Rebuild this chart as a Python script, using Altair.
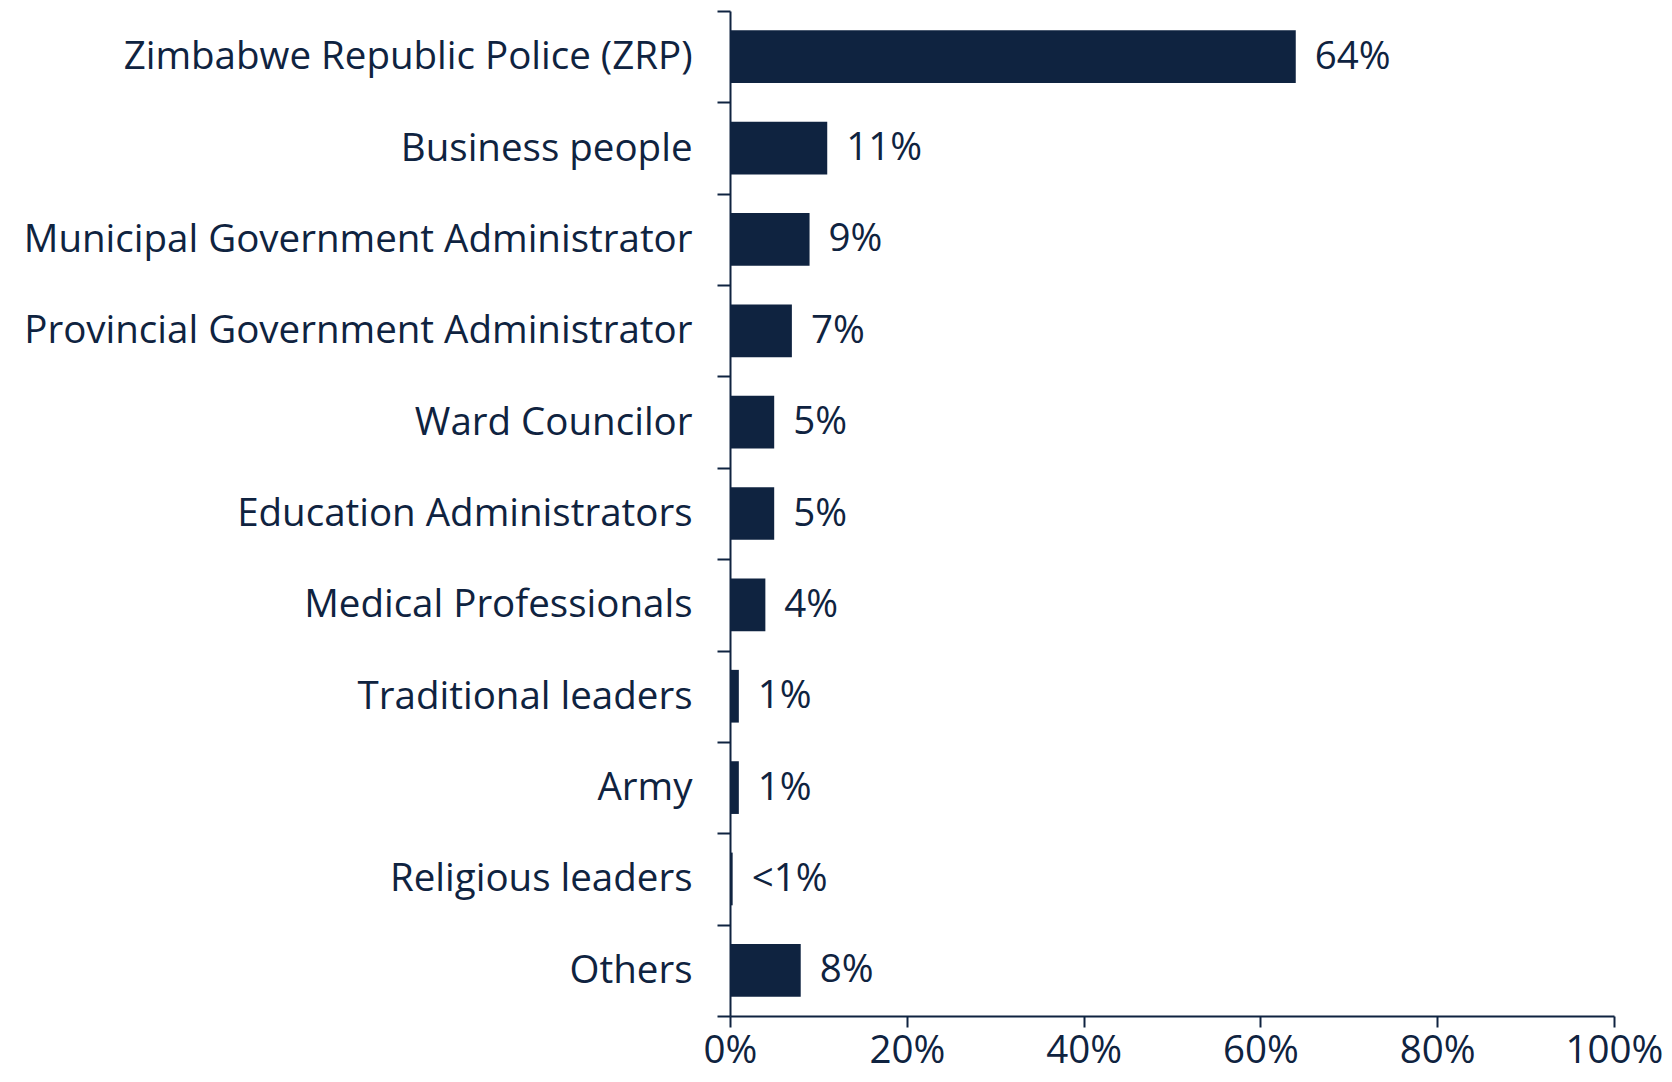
import altair as alt
import pandas as pd

categories = [
    "Zimbabwe Republic Police (ZRP)",
    "Business people",
    "Municipal Government Administrator",
    "Provincial Government Administrator",
    "Ward Councilor",
    "Education Administrators",
    "Medical Professionals",
    "Traditional leaders",
    "Army",
    "Religious leaders",
    "Others",
]
values = [64, 11, 9, 7, 5, 5, 4, 1, 1, 0.3, 8]
value_labels = ["64%", "11%", "9%", "7%", "5%", "5%", "4%", "1%", "1%", "<1%", "8%"]
x_ticks = [0, 20, 40, 60, 80, 100]

df = pd.DataFrame({"category": categories, "value": values, "label": value_labels})

NAVY = "#0f2340"
FONT = "Open Sans"
FS = 38.5

y_axis = alt.Axis(
    tickBand="extent",
    tickSize=13,
    tickWidth=2,
    tickColor=NAVY,
    domainColor=NAVY,
    domainWidth=2,
    labelFont=FONT,
    labelFontSize=FS,
    labelColor=NAVY,
    labelPadding=25,
    labelLimit=900,
)

x_axis = alt.Axis(
    values=x_ticks,
    labelExpr="datum.value + '%'",
    grid=False,
    tickSize=11,
    tickWidth=2,
    tickColor=NAVY,
    domainColor=NAVY,
    domainWidth=2,
    labelFont=FONT,
    labelFontSize=FS,
    labelColor=NAVY,
    labelPadding=5,
    labelFlush=False,
)

x_scale = alt.Scale(domain=[0, 100], nice=False)
y_scale = alt.Scale(paddingInner=0, paddingOuter=0)


def x_enc():
    return alt.X("value:Q", title=None, scale=x_scale, axis=x_axis)


def y_enc():
    return alt.Y("category:N", sort=categories, title=None, scale=y_scale, axis=y_axis)


bars = alt.Chart(df).mark_bar(color=NAVY, height={"band": 0.577}).encode(x=x_enc(), y=y_enc())

text = alt.Chart(df).mark_text(
    align="left", baseline="middle", dx=19, font=FONT, fontSize=FS, color=NAVY
).encode(x=x_enc(), y=y_enc(), text="label:N")

chart = (
    (bars + text)
    .properties(
        width=884,
        height=1005,
        autosize=alt.AutoSizeParams(type="none"),
        padding={"left": 722, "top": 3, "right": 50, "bottom": 57},
        background="white",
    )
    .configure_view(stroke="transparent")
)

chart.save("out.html", embed_options={"renderer": "svg", "actions": False})
